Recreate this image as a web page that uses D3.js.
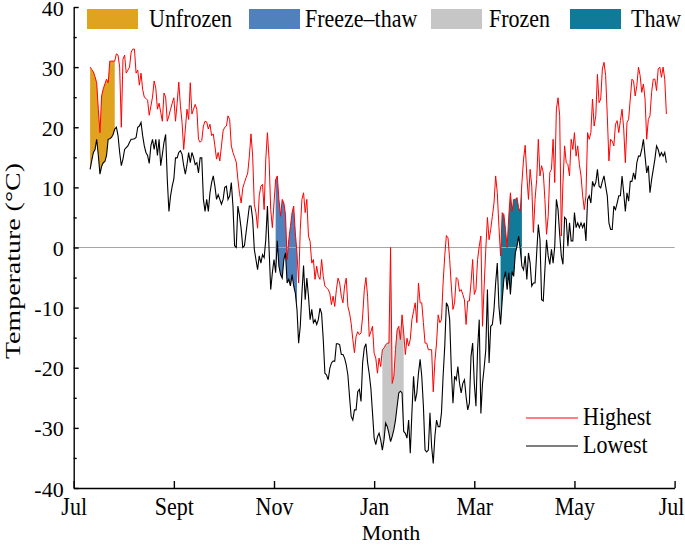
<!DOCTYPE html>
<html>
<head>
<meta charset="utf-8">
<script src="https://cdn.jsdelivr.net/npm/d3@7"></script>
<style>
  body { margin: 0; background: #fff; }
  svg { display: block; font-family: "Liberation Serif", "Times New Roman", serif; }
  .axis path, .axis line { stroke: #000; stroke-width: 1.4; }
  .axis text { font-size: 22px; fill: #000; font-family: "Liberation Serif", "Times New Roman", serif; }
</style>
</head>
<body>
<svg id="chart" width="685" height="545"></svg>
<script>
// daily values, first value is day 10 after 1 July
var startDay = 10;

var highest = [
  30.0, 29.6, 29.2, 28.4, 27.4, 23, 19.1, 25.2, 26.4, 27.2,
  28, 27.4, 31, 31, 31, 31, 32.2, 32, 30, 20,
  31.3, 32, 29, 29.5, 30, 32.5, 33, 33, 29, 29.5,
  27, 29, 26.3, 25, 24.8, 24.5, 22, 23.5, 25, 27.7,
  26.5, 23, 24, 22.5, 21, 25.7, 25, 21,
  21.9, 23, 24, 24.9, 21, 24, 27.5, 23.6, 20.8, 16.3,
  19.7, 23, 21.3, 27.4, 22.2, 23, 23.8, 23, 18, 17.5,
  17.8, 20.2, 21, 20.9, 19.7, 20.5, 18.6, 18.9, 16.9, 14.7,
  15.8, 14.4, 16.9, 19.4, 20, 20.2, 21.9, 21.3, 16.9, 15.8,
  15, 14.2, 11.3, 9, 7.4, 9.9, 10.8, 11.6, 12.4, 15.2,
  18.9, 15.2, 7.2, 5.8, 3.2, 8.6, 10.2, 10.5,
  6.3, 14.7, 19.1, 14.7, 6.3, 3.3, 7.4, 11.3, 11.9, 8,
  5.2, 8, 7.4, 5.5, -2, 1.3, 3.5, 5.8, 6.9, 2.4,
  -0.9, -5.9, 3, 8, 9.1, 5.8, 8, 1.9, 1.0, -2.6,
  -2, -5.3, -3.1, -4.8, -5.3, -2, -4.8, -6.4, -6.7, -7,
  -7.6, -9.5, -8.1, -9.8, -7, -5.1, -5.9, -8.1, -9.2, -6.4,
  -5.1, -9.8, -10.9, -12.6, -15.3, -17.5, -14.8, -14, -14.5, -14.2,
  -11.4, -7, -5, -8.1, -14.8, -14, -13.1, -17.6, -18.4, -20.9,
  -18.4, -19.8, -17, -16.7, -16.2, -15.9, -15.9, 0, -22.6, -21.4,
  -17, -13.7, -13.1, -15.3, -11.2, -14.2, -17.8, -15.1, -16.4, -15.3,
  -12, -10.6, -9.2, -12.5, -5.9, -9.2, -9.2, -12.5, -15.9, -15.9,
  -17, -17, -17, -24, -18.9, -15.9, -11.2, -12.5, -12, -5.9,
  -1.4, 2, 1.6, -2, -6.4, -10.3, -9.2, -5, -5.3, -7.3,
  -7, -7.8, -8.7, -12.8, -8.9, -8.9, -5.9, -2, -7.8, -7,
  -2, 0.2, 1.9, -13.1, -6.4, -0.3, 5, 1.3, 3, 5.2,
  7.4, 11.9, 9.1, 3.5, -1.4, 5.8, 5.5, 3, 0, 5.2,
  9.1, 6, 8, 8, 8.3, 6.6, 6, 10.8, 14.7, 17,
  11.9, 8, 13, 10.2, 2.5, 8, 11.3, 18, 11.9, 13.6,
  12.5, 8, 2.2, 5.2, 12.5, 13, 18, 10.8, 23, 24.9,
  21.9, 1.9, 10.8, 16.9, 14.1, 13.8, 11.9, 18, 16.3, 19.1,
  15.2, 16.9, 13.8, 11.9, 8.6, 6.3, 8.6, 19.1, 18, 19.1,
  24.7, 20.2, 21.9, 28.8, 24.1, 24.7, 29.7, 30.8, 28.6, 21.9,
  14.4, 18, 17.7, 16.9, 20.5, 21.1, 19.1, 21.1, 23, 19.7,
  14.1, 20.8, 21.3, 24.7, 28, 27.7, 25.2, 26.9, 30, 28.6,
  25.8, 27.2, 24.7, 18, 21.3, 21.9, 25.8, 28, 28, 26.1,
  29.7, 30, 28.3, 30, 28, 22.2
];

var lowest = [
  13, 14.5, 15.8, 16.3, 18, 15.3, 12.2, 13.5, 14.1, 14.3,
  15.3, 18, 18.1, 18.3, 18.8, 19.7, 20, 18.6, 15.8, 13.6,
  14.7, 16.3, 16.6, 16.9, 17.5, 18, 18, 18.1, 18.3, 20,
  20.2, 20.8, 18.6, 16.9, 15.8, 15.3, 14, 16.9, 18, 16.3,
  18, 15.3, 18, 13.6, 15.5, 17.5, 18.8, 11.3,
  6, 8.6, 10.2, 11.4, 14.9, 14.9, 15.8, 16.1, 15.5, 13.6,
  12.2, 13.8, 15.8, 14.1, 15.8, 15, 13.8, 14.1, 12.4, 14.9,
  14.9, 8, 6, 8, 6, 9.1, 10.8, 11.9, 10.2, 8,
  8.8, 8, 7.2, 8, 10, 10.2, 8, 8.6, 10.8, 6.9,
  0.3, 0, 6.9, 5.3, 3.1, 0, 0.3, 2.5, 4.7, 6.9,
  6.9, 4.7, -0.3, -2, -3.7, -1.4, -2.6, -1.2,
  -1.7, 1.3, 6.9, -0.3, -7, -4.2, -2, -4.2, 1.1, -3.1,
  -4.5, -5.1, -2, -0.9, -5.9, -5.3, -6.4, -4.5, -6.4, -7.6,
  -10.3, -15.9, -13.1, -7.6, -3, -8.7, -5.1, -8.1, -12, -10.3,
  -12.5, -12, -12.8, -12, -10.1, -11, -15.3, -20.9, -21.2, -22,
  -20.1, -19.2, -18.9, -18.9, -16, -16, -16.2, -17.8, -17.8, -18.4,
  -19.5, -21.2, -24.8, -28.1, -28.7, -27, -27, -24, -23.6, -25.6,
  -19.1, -16.7, -16, -19.1, -21, -23.4, -27.5, -31.7, -32.8, -31.5,
  -30.9, -32, -33.7, -32, -29.2, -29.8, -30.9, -32.3, -31.4, -30.3,
  -28.7, -26.4, -24.2, -23.9, -24.2, -30.6, -30.9, -31.7, -28.7, -34.2,
  -27.5, -21.4, -25.6, -24.2, -20.9, -18.6, -21.4, -26.4, -33.7, -34,
  -33.7, -27.5, -33.1, -35.9, -31.4, -28.7, -29.8, -29.8, -27.5, -21.4,
  -16.4, -9.2, -9.8, -12, -20.3, -25.9, -21.4, -22, -19.8, -22.6,
  -24.2, -22.6, -22, -24.8, -27, -25.9, -18.1, -15.9, -22.6, -26.4,
  -17, -12, -27.6, -22.6, -20, -17, -7, -19.2, -13.1, -12.8,
  -10.3, -5.9, -2.6, -9.8, -12.8, -8.7, -5.3, -4, -7, -4.2,
  -7.8, -4, -4.8, -0.9, 0.2, 1.9, -0.3, -3.1, -3.7, -1.4,
  -5.3, -0.9, -2.6, -6.4, -5.9, -5.9, -0.9, 3.8, 1.3, -8.7,
  -8.9, -3.7, 1.3, -1.4, -2.8, -0.3, -2.6, 0.2, 8, 6.3,
  2.2, -1.4, -2.8, 5, 4.7, 0.2, 4.1, 1.1, 1.1, 5.8,
  3.3, 4.1, 3.3, 4.1, 3.3, 4.1, 1.1, 8, 8.6, 7.4,
  11, 10.2, 10.8, 13, 10.2, 9.9, 11, 11.9, 10.2, 8.6,
  4.1, 3, 3, 6.9, 6.3, 7.4, 8.6, 8.6, 11.9, 9.1,
  6, 9.1, 7.7, 11, 11, 12.4, 11.3, 14.1, 15.2, 15.2,
  16.3, 18, 15.2, 12.4, 13.6, 9.1, 11.3, 13, 14.7, 16.9,
  16.3, 15.2, 15.8, 15.2, 15.8, 14.1
];

// periods shaded between the two lines (day numbers)
var phaseNames = ["Unfrozen", "Freeze\u2013thaw", "Frozen", "Thaw"];
var phaseStart = [10, 123, 188, 260];
var phaseEnd = [25, 136, 201, 273];
var phaseColors = ["#dfa31f", "#5081bd", "#c6c6c6", "#117a99"];

var monthTicks = [0, 61, 122, 183, 244, 305, 366];
var monthLabels = ["Jul", "Sept", "Nov", "Jan", "Mar", "May", "Jul"];
var tempTicks = [-40, -30, -20, -10, 0, 10, 20, 30, 40];
var tempMinor = [-35, -25, -15, -5, 5, 15, 25, 35];

var svg = d3.select("#chart"),
    margin = {top: 7, right: 10.4, bottom: 57, left: 73.7},
    width = +svg.attr("width") - margin.left - margin.right,
    height = +svg.attr("height") - margin.top - margin.bottom;

var g = svg.append("g")
    .attr("transform", "translate(" + margin.left + "," + margin.top + ")");

var x = d3.scaleLinear().domain([0, 366]).range([0, width]);
var y = d3.scaleLinear().domain([-40, 40]).range([height, 0]);

var rows = highest.map(function(h, i) {
  return {day: startDay + i, hi: h, lo: lowest[i]};
});

// text in the picture is a little taller than normal
var stretch = "scale(1,1.1)";

// shaded periods
var area = d3.area()
    .x(function(d) { return x(d.day); })
    .y0(function(d) { return y(d.lo); })
    .y1(function(d) { return y(d.hi); });

phaseNames.forEach(function(name, i) {
  g.append("path")
      .datum(rows.filter(function(d) { return d.day >= phaseStart[i] && d.day <= phaseEnd[i]; }))
      .attr("fill", phaseColors[i])
      .attr("d", area);
});

// zero line
g.append("line")
    .attr("x1", 0).attr("x2", width)
    .attr("y1", y(0)).attr("y2", y(0))
    .attr("stroke", "#a6a6a6")
    .attr("stroke-width", 1);

var lineHi = d3.line()
    .x(function(d) { return x(d.day); })
    .y(function(d) { return y(d.hi); });
var lineLo = d3.line()
    .x(function(d) { return x(d.day); })
    .y(function(d) { return y(d.lo); });

g.append("path").datum(rows)
    .attr("fill", "none").attr("stroke", "#ff0000").attr("stroke-width", 1)
    .attr("d", lineHi);
g.append("path").datum(rows)
    .attr("fill", "none").attr("stroke", "#000").attr("stroke-width", 1.1)
    .attr("d", lineLo);

// y axis, ticks point inwards
var gy = g.append("g")
    .attr("class", "axis")
    .call(d3.axisLeft(y).tickValues(tempTicks).tickSize(-5).tickSizeOuter(0).tickPadding(10)
      .tickFormat(function(d) { return String(d); }));
gy.selectAll(".tick text")
    .attr("dy", null)
    .attr("transform", "translate(0,8)");

g.append("g")
    .attr("class", "axis")
    .call(d3.axisLeft(y).tickValues(tempMinor).tickSize(-3).tickSizeOuter(0).tickFormat(""))
    .select(".domain").remove();

// x axis
var gx = g.append("g")
    .attr("class", "axis")
    .attr("transform", "translate(0," + height + ")")
    .call(d3.axisBottom(x).tickValues(monthTicks).tickSize(-7).tickSizeOuter(0)
      .tickFormat(function(d, i) { return monthLabels[i]; }));
gx.selectAll(".tick text")
    .attr("y", 0).attr("dy", null)
    .attr("x", function(d, i) { return i === monthTicks.length - 1 ? -3.5 : 0; })
    .attr("transform", "translate(0,27) " + stretch);

// axis titles
svg.append("text")
    .attr("transform", "translate(391,540)")
    .attr("text-anchor", "middle")
    .style("font-size", "22px")
    .text("Month");

svg.append("text")
    .attr("transform", "translate(19.8,261) rotate(-90)")
    .attr("text-anchor", "middle")
    .attr("textLength", 196)
    .attr("lengthAdjust", "spacingAndGlyphs")
    .style("font-size", "22px")
    .text("Temperature (\u00b0C)");

// legend on top
var boxX = [87, 249, 431, 570],
    labelX = [149, 305, 489, 631];

phaseNames.forEach(function(name, i) {
  svg.append("rect")
      .attr("x", boxX[i]).attr("y", 9)
      .attr("width", 51).attr("height", 20)
      .attr("fill", phaseColors[i]);
  svg.append("text")
      .attr("transform", "translate(" + labelX[i] + ",26.7) " + stretch)
      .style("font-size", "22px")
      .text(name);
});

// legend for the lines
var lineNames = ["Highest", "Lowest"],
    lineColors = ["#ff0000", "#000"];

lineNames.forEach(function(name, i) {
  var ly = 418 + i * 28;
  svg.append("line")
      .attr("x1", 526).attr("x2", 578)
      .attr("y1", ly).attr("y2", ly)
      .attr("stroke", lineColors[i]).attr("stroke-width", 1.2);
  svg.append("text")
      .attr("transform", "translate(583," + (ly + 6.5) + ") " + stretch)
      .style("font-size", "22px")
      .text(name);
});
</script>
</body>
</html>
